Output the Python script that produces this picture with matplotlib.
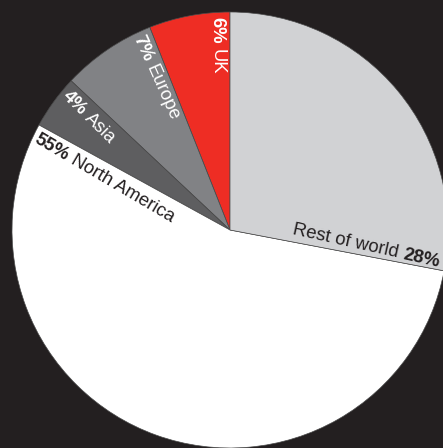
import matplotlib.pyplot as plt
import numpy as np

# data
regions = ["UK", "Europe", "Asia", "North America", "Rest of world"]
shares = [6, 7, 4, 55, 28]
colors = ["#ee2d24", "#818285", "#5e5e60", "#ffffff", "#d1d2d4"]
text_colors = ["white", "white", "white", "#231f20", "#231f20"]

bg = "#231f20"
cx, cy, R = 230, 218, 218

fig = plt.figure(figsize=(4.43, 4.48), dpi=100, facecolor=bg)
ax = fig.add_axes([0, 0, 1, 1])
ax.set_facecolor(bg)

ax.pie(shares, colors=colors, startangle=90, counterclock=True,
       radius=R, center=(cx, cy),
       wedgeprops=dict(edgecolor="#4a4a4a", linewidth=0.5))
ax.set_xlim(0, 443)
ax.set_ylim(0, 448)
ax.set_aspect("equal")
ax.axis("off")

# label placement: (polar angle, radius of text start, rotation, inward?)
label_pos = [
    (93.5, 213, -90, True),
    (115.6, 215, -66, True),
    (140.5, 214, -44.5, True),
    (154.6, 215, -30.5, True),
    (0.0, 63, -12.5, False),
]

font = "Liberation Sans"
fs = 13.3
fig.canvas.draw()
renderer = fig.canvas.get_renderer()


def width_of(s, weight):
    t = ax.text(0, 0, s, fontsize=fs, family=font, fontweight=weight)
    w = t.get_window_extent(renderer).width
    t.remove()
    return w


space = width_of("a a", "normal") - width_of("aa", "normal")

for name, pct, col, (ang, r, rot, inward) in zip(regions, shares, text_colors, label_pos):
    x0 = cx + r * np.cos(np.radians(ang))
    y0 = cy + r * np.sin(np.radians(ang))
    d = np.array([np.cos(np.radians(rot)), np.sin(np.radians(rot))])
    pct_s = f"{pct}%"
    if inward:
        parts = [(pct_s, "bold"), (name, "normal")]
    else:
        parts = [(name, "normal"), (pct_s, "bold")]
    pos = np.array([x0, y0])
    for s, wgt in parts:
        ax.text(pos[0], pos[1], s, fontsize=fs, family=font, fontweight=wgt,
                color=col, rotation=rot, rotation_mode="anchor",
                ha="left", va="center")
        pos = pos + d * (width_of(s, wgt) + space)

fig.savefig("out.png", dpi=100, facecolor=bg)
